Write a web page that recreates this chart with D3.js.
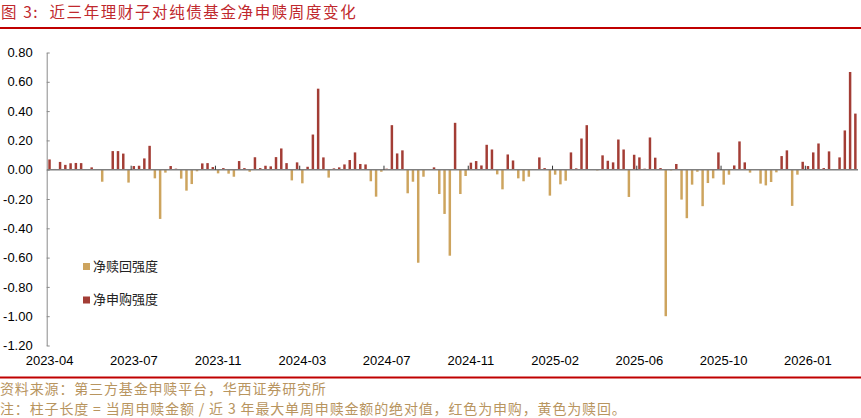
<!DOCTYPE html>
<html lang="zh">
<head>
<meta charset="UTF-8">
<title>近三年理财子对纯债基金净申赎周度变化</title>
<script src="https://cdnjs.cloudflare.com/ajax/libs/d3/7.8.5/d3.min.js"></script>
<style>
  body { margin: 0; background: #fff; }
  svg { display: block; }
</style>
</head>
<body>
<svg width="861" height="418" id="canvas"></svg>
<script>
    // weekly net flow strength (positive = 净申购, negative = 净赎回), 154 weeks
    const netStrength = [
        0.07, 0.005, 0.053, 0.033, 0.044, 0.046, 0.045, 0, 0.016, 0,
        -0.082, 0, 0.127, 0.127, 0.11, -0.088, 0.025, 0.027, 0.077, 0.163,
        -0.059, -0.336, -0.02, 0.025, 0.007, -0.061, -0.143, -0.098, -0.011, 0.043,
        0.045, 0.018, -0.025, 0.011, -0.027, -0.048, 0.059, 0.011, -0.014, 0.085,
        0.011, 0.027, 0.023, 0.086, 0.145, 0.045, -0.073, 0.05, -0.093, 0.02,
        0.24, 0.553, 0.084, -0.054, 0.009, 0.016, 0.036, 0.066, 0.118, 0.039,
        0.036, -0.079, -0.184, -0.014, 0.007, 0.304, 0.111, 0.132, -0.161, -0.082,
        -0.635, -0.048, 0, 0.016, -0.166, -0.302, -0.587, 0.32, -0.166, -0.043,
        0.048, 0.059, 0.029, 0.17, 0.138, -0.032, -0.134, 0.104, 0.063, -0.059,
        -0.079, -0.048, 0.002, 0.084, 0.011, -0.177, -0.034, -0.1, -0.075, 0.118,
        0.009, 0.213, 0.304, 0, -0.005, 0.098, 0.061, 0.05, 0.206, 0.138,
        -0.186, 0.102, 0.084, 0.007, 0.22, 0.082, 0.011, -1.0, -0.005, 0.039,
        -0.204, -0.331, -0.102, -0.014, -0.249, -0.091, -0.059, 0.118, -0.102, -0.034,
        0.029, 0.193, 0.05, -0.02, 0, -0.095, -0.107, -0.084, -0.018, 0.093,
        0.132, -0.247, -0.034, 0.054, 0.025, 0.118, 0.179, 0.011, 0.125, 0,
        0.084, 0.268, 0.667, 0.383
    ];
    const weeks = d3.range(netStrength.length); // category index per week
    const tickLabels = ["2023-04", "2023-07", "2023-11", "2024-03", "2024-07",
                        "2024-11", "2025-02", "2025-06", "2025-10", "2026-01"];
    const labelEvery = 16;
    const yTicks = [0.8, 0.6, 0.4, 0.2, 0, -0.2, -0.4, -0.6, -0.8, -1.0, -1.2];
    const seriesNames = ["净赎回强度", "净申购强度"];

    const RED = "#a33d35", TAN = "#cda45e";
    const svg = d3.select("#canvas");

    // title + rules
    svg.append("text")
        .attr("x", 1).attr("y", 18)
        .attr("fill", "#c0282d")
        .style("font-family", "'Noto Sans CJK SC', sans-serif")
        .style("font-size", "15.5px")
        .style("letter-spacing", "1.6px")
        .style("white-space", "pre")
        .text("图 3:  近三年理财子对纯债基金净申赎周度变化");
    svg.append("rect").attr("x", 0).attr("y", 27).attr("width", 861).attr("height", 2).attr("fill", "#c00000");
    svg.append("rect").attr("x", 0).attr("y", 376.5).attr("width", 861).attr("height", 2).attr("fill", "#c00000");

    let x = d3.scaleBand()
        .domain(weeks)
        .range([46.9, 858])
        .paddingInner(0.53)
        .paddingOuter(0.265);
    let y = d3.scaleLinear()
        .domain([-1.2, 0.8])
        .range([345.5, 52.5]);

    // bars
    svg.append("g")
        .selectAll("rect")
        .data(netStrength)
        .join("rect")
        .attr("x", (d, i) => x(i))
        .attr("width", x.bandwidth())
        .attr("y", d => y(Math.max(d, 0)))
        .attr("height", d => Math.abs(y(d) - y(0)))
        .attr("fill", d => d >= 0 ? RED : TAN);

    // y axis, ticks pointing inward
    let yAxis = d3.axisLeft(y)
        .tickValues(yTicks)
        .tickFormat(d => d.toFixed(2))
        .tickSizeInner(-3)
        .tickSizeOuter(0)
        .tickPadding(14);
    let gy = svg.append("g").attr("transform", "translate(46.7,0)").call(yAxis);
    gy.select(".domain").attr("stroke", "#8a8a8a");
    gy.selectAll(".tick line").attr("stroke", "#8a8a8a");
    gy.selectAll("text")
        .attr("fill", "#000")
        .style("font-family", "'Liberation Sans', Arial, sans-serif")
        .style("font-size", "13px");

    // zero line with category tick marks between groups
    svg.append("line")
        .attr("x1", 46.9).attr("x2", 858)
        .attr("y1", y(0)).attr("y2", y(0))
        .attr("stroke", "#7f7f7f").attr("stroke-width", 1.4);
    let boundaryIdx = weeks.filter(i => i > 0 && i % labelEvery === 0);
    svg.append("g")
        .selectAll("line")
        .data(boundaryIdx)
        .join("line")
        .attr("x1", i => x(i) - x.step() * x.paddingInner() / 2)
        .attr("x2", i => x(i) - x.step() * x.paddingInner() / 2)
        .attr("y1", y(0)).attr("y2", y(0) - 4)
        .attr("stroke", "#333").attr("stroke-width", 1);

    // x labels
    let xAxis = d3.axisBottom(x)
        .tickValues(weeks.filter(i => i % labelEvery === 0))
        .tickFormat(i => tickLabels[i / labelEvery])
        .tickSize(0)
        .tickPadding(0);
    let gx = svg.append("g").attr("transform", "translate(0,356)").call(xAxis);
    gx.select(".domain").remove();
    gx.selectAll("text")
        .attr("fill", "#000")
        .style("font-family", "'Liberation Sans', Arial, sans-serif")
        .style("font-size", "13px");

    // legend
    let legend = svg.append("g")
        .selectAll("g")
        .data(seriesNames)
        .join("g")
        .attr("transform", (d, i) => "translate(83," + (263 + i * 33.5) + ")");
    legend.append("rect").attr("width", 7).attr("height", 7)
        .attr("fill", (d, i) => i === 0 ? TAN : RED);
    legend.append("text")
        .attr("x", 10).attr("y", 7.5)
        .attr("fill", "#222")
        .style("font-family", "'Noto Sans CJK SC', sans-serif")
        .style("font-size", "13px")
        .text(d => d);

    // footnotes
    const notes = ["资料来源：第三方基金申赎平台，华西证券研究所",
                   "注：柱子长度 = 当周申赎金额 / 近 3 年最大单周申赎金额的绝对值，红色为申购，黄色为赎回。"];
    svg.append("g")
        .selectAll("text")
        .data(notes)
        .join("text")
        .attr("x", 0)
        .attr("y", (d, i) => 394 + i * 19.5)
        .attr("fill", "#b8955f")
        .style("font-family", "'Noto Sans CJK SC', sans-serif")
        .style("font-size", "14px")
        .style("letter-spacing", "0.85px")
        .text(d => d);
</script>
</body>
</html>
